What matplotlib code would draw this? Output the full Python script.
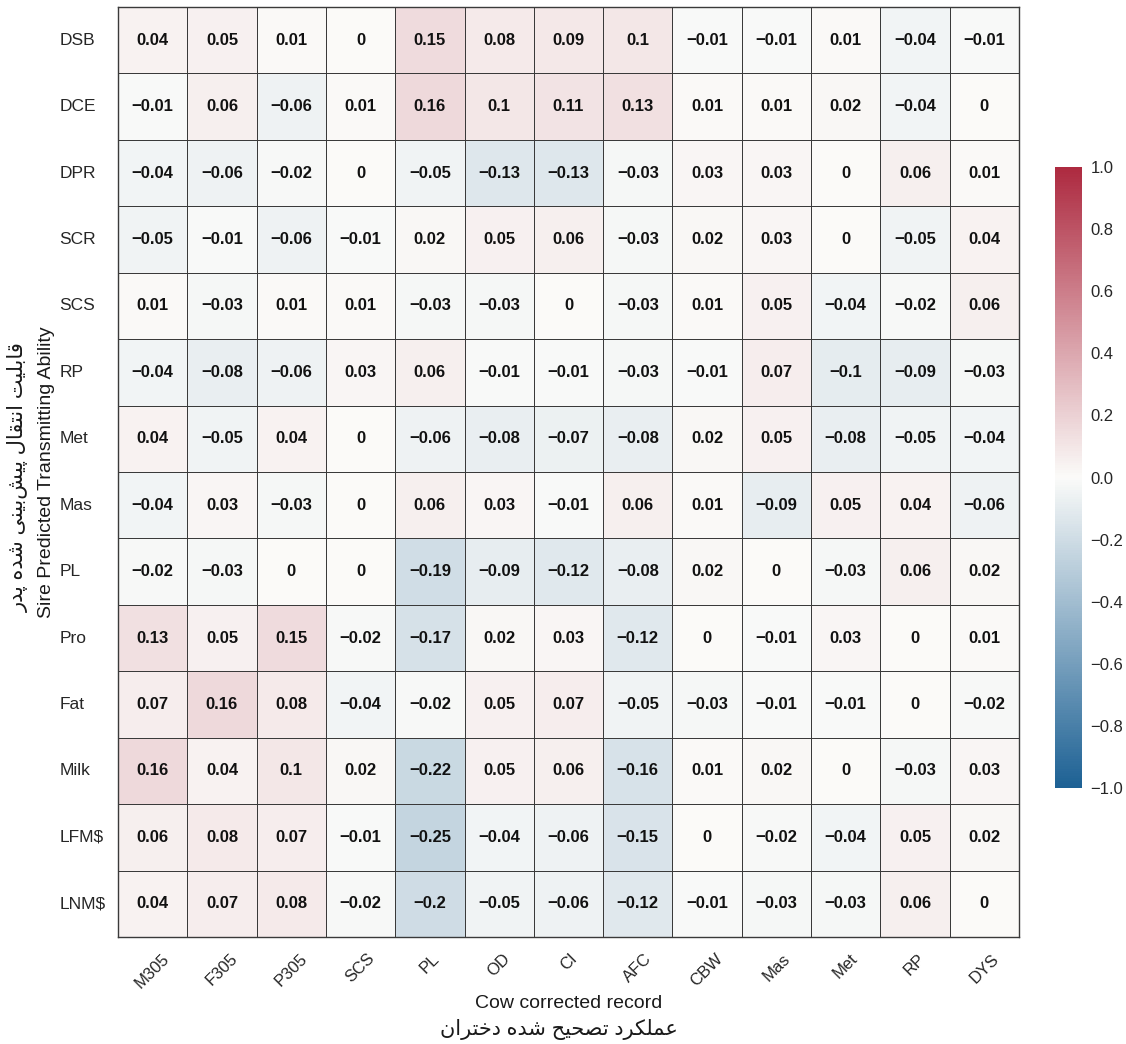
import matplotlib
matplotlib.use('Agg')
import matplotlib.pyplot as plt
from matplotlib.colors import LinearSegmentedColormap
import numpy as np
import seaborn as sns

rows = ["DSB", "DCE", "DPR", "SCR", "SCS", "RP", "Met", "Mas", "PL",
        "Pro", "Fat", "Milk", "LFM$", "LNM$"]
cols = ["M305", "F305", "P305", "SCS", "PL", "OD", "CI", "AFC", "CBW",
        "Mas", "Met", "RP", "DYS"]

values = np.array([
    [0.04, 0.05, 0.01, 0, 0.15, 0.08, 0.09, 0.1, -0.01, -0.01, 0.01, -0.04, -0.01],
    [-0.01, 0.06, -0.06, 0.01, 0.16, 0.1, 0.11, 0.13, 0.01, 0.01, 0.02, -0.04, 0],
    [-0.04, -0.06, -0.02, 0, -0.05, -0.13, -0.13, -0.03, 0.03, 0.03, 0, 0.06, 0.01],
    [-0.05, -0.01, -0.06, -0.01, 0.02, 0.05, 0.06, -0.03, 0.02, 0.03, 0, -0.05, 0.04],
    [0.01, -0.03, 0.01, 0.01, -0.03, -0.03, 0, -0.03, 0.01, 0.05, -0.04, -0.02, 0.06],
    [-0.04, -0.08, -0.06, 0.03, 0.06, -0.01, -0.01, -0.03, -0.01, 0.07, -0.1, -0.09, -0.03],
    [0.04, -0.05, 0.04, 0, -0.06, -0.08, -0.07, -0.08, 0.02, 0.05, -0.08, -0.05, -0.04],
    [-0.04, 0.03, -0.03, 0, 0.06, 0.03, -0.01, 0.06, 0.01, -0.09, 0.05, 0.04, -0.06],
    [-0.02, -0.03, 0, 0, -0.19, -0.09, -0.12, -0.08, 0.02, 0, -0.03, 0.06, 0.02],
    [0.13, 0.05, 0.15, -0.02, -0.17, 0.02, 0.03, -0.12, 0, -0.01, 0.03, 0, 0.01],
    [0.07, 0.16, 0.08, -0.04, -0.02, 0.05, 0.07, -0.05, -0.03, -0.01, -0.01, 0, -0.02],
    [0.16, 0.04, 0.1, 0.02, -0.22, 0.05, 0.06, -0.16, 0.01, 0.02, 0, -0.03, 0.03],
    [0.06, 0.08, 0.07, -0.01, -0.25, -0.04, -0.06, -0.15, 0, -0.02, -0.04, 0.05, 0.02],
    [0.04, 0.07, 0.08, -0.02, -0.2, -0.05, -0.06, -0.12, -0.01, -0.03, -0.03, 0.06, 0],
])

cbar_ticks = [-1.0, -0.8, -0.6, -0.4, -0.2, 0.0, 0.2, 0.4, 0.6, 0.8, 1.0]

xlabel_en = "Cow corrected record"
xlabel_fa = "عملکرد تصحیح شده دختران"
ylabel_en = "Sire Predicted Transmitting Ability"
ylabel_fa = "قابلیت انتقال پیش\u200cبینی شده پدر"

# presentation forms: isolated, final, initial, medial
FORMS = {
    "ا": (0xFE8D, 0xFE8E), "د": (0xFEA9, 0xFEAA), "ر": (0xFEAD, 0xFEAE),
    "ب": (0xFE8F, 0xFE90, 0xFE91, 0xFE92), "پ": (0xFB56, 0xFB57, 0xFB58, 0xFB59),
    "ت": (0xFE95, 0xFE96, 0xFE97, 0xFE98), "ح": (0xFEA1, 0xFEA2, 0xFEA3, 0xFEA4),
    "خ": (0xFEA5, 0xFEA6, 0xFEA7, 0xFEA8), "ش": (0xFEB5, 0xFEB6, 0xFEB7, 0xFEB8),
    "ص": (0xFEB9, 0xFEBA, 0xFEBB, 0xFEBC), "ع": (0xFEC9, 0xFECA, 0xFECB, 0xFECC),
    "ق": (0xFED5, 0xFED6, 0xFED7, 0xFED8), "ک": (0xFB8E, 0xFB8F, 0xFB90, 0xFB91),
    "ل": (0xFEDD, 0xFEDE, 0xFEDF, 0xFEE0), "م": (0xFEE1, 0xFEE2, 0xFEE3, 0xFEE4),
    "ن": (0xFEE5, 0xFEE6, 0xFEE7, 0xFEE8), "ه": (0xFEE9, 0xFEEA, 0xFEEB, 0xFEEC),
    "ی": (0xFBFC, 0xFBFD, 0xFBFE, 0xFBFF),
}


def farsi(text):
    # no arabic_reshaper here, so join letters by hand and flip to visual order
    out = []
    for i, ch in enumerate(text):
        if ch not in FORMS:
            out.append(ch)
            continue
        prev = text[i - 1] if i > 0 else ""
        nxt = text[i + 1] if i + 1 < len(text) else ""
        joins_prev = prev in FORMS and len(FORMS[prev]) == 4
        joins_next = len(FORMS[ch]) == 4 and nxt in FORMS
        if joins_prev and joins_next:
            idx = 3
        elif joins_next:
            idx = 2
        elif joins_prev:
            idx = 1
        else:
            idx = 0
        out.append(chr(FORMS[ch][idx]))
    return "".join(out).replace("\u200c", "")[::-1]


plt.rcParams['font.family'] = ['Liberation Sans', 'DejaVu Sans']

W, H = 1126, 1044
fig = plt.figure(figsize=(W / 100, H / 100), dpi=100)
ax = fig.add_axes([118 / W, 1 - 937 / H, 901 / W, 930 / H])
cax = fig.add_axes([1055 / W, 1 - 788 / H, 27 / W, 621 / H])

annot = np.array([[f"{v:g}".replace("-", "\u2212") for v in r] for r in values])
cmap = LinearSegmentedColormap.from_list("rb", ["#1d6194", "#fbfbf9", "#ad2a40"])

sns.heatmap(values, ax=ax, cbar_ax=cax, cmap=cmap, vmin=-1, vmax=1,
            annot=annot, fmt="",
            annot_kws={"size": 12, "weight": "bold", "color": "#111111"},
            linewidths=0.7, linecolor="#3a3a3a",
            xticklabels=cols, yticklabels=rows)

for spine in ax.spines.values():
    spine.set_visible(True)
    spine.set_linewidth(1.0)
    spine.set_color("#3a3a3a")

ax.set_xticklabels(cols, rotation=45, ha="center", fontsize=12, color="#262626")
ax.set_yticklabels(rows, rotation=0, ha="left", fontsize=12.5, color="#262626")
ax.tick_params(axis="x", length=0, pad=10)
ax.tick_params(axis="y", length=0, pad=42)

ax.set_xlabel(xlabel_en, fontsize=14, labelpad=3, color="#1a1a1a")
ax.set_ylabel(ylabel_en, fontsize=14, labelpad=3, color="#1a1a1a")
fig.text(559 / W, 1 - 1030 / H, farsi(xlabel_fa), fontsize=15, ha="center",
         va="center", color="#1a1a1a")
fig.text(18 / W, 1 - 477 / H, farsi(ylabel_fa), fontsize=15, ha="center",
         va="center", rotation=90, color="#1a1a1a")

cbar = ax.collections[0].colorbar
cbar.set_ticks(cbar_ticks, labels=[f"{t:.1f}".replace("-", "\u2212") for t in cbar_ticks])
cbar.ax.tick_params(length=0, pad=6, labelsize=12, colors="#262626")
cbar.outline.set_visible(False)

plt.savefig("out.png", dpi=100)
plt.close()
